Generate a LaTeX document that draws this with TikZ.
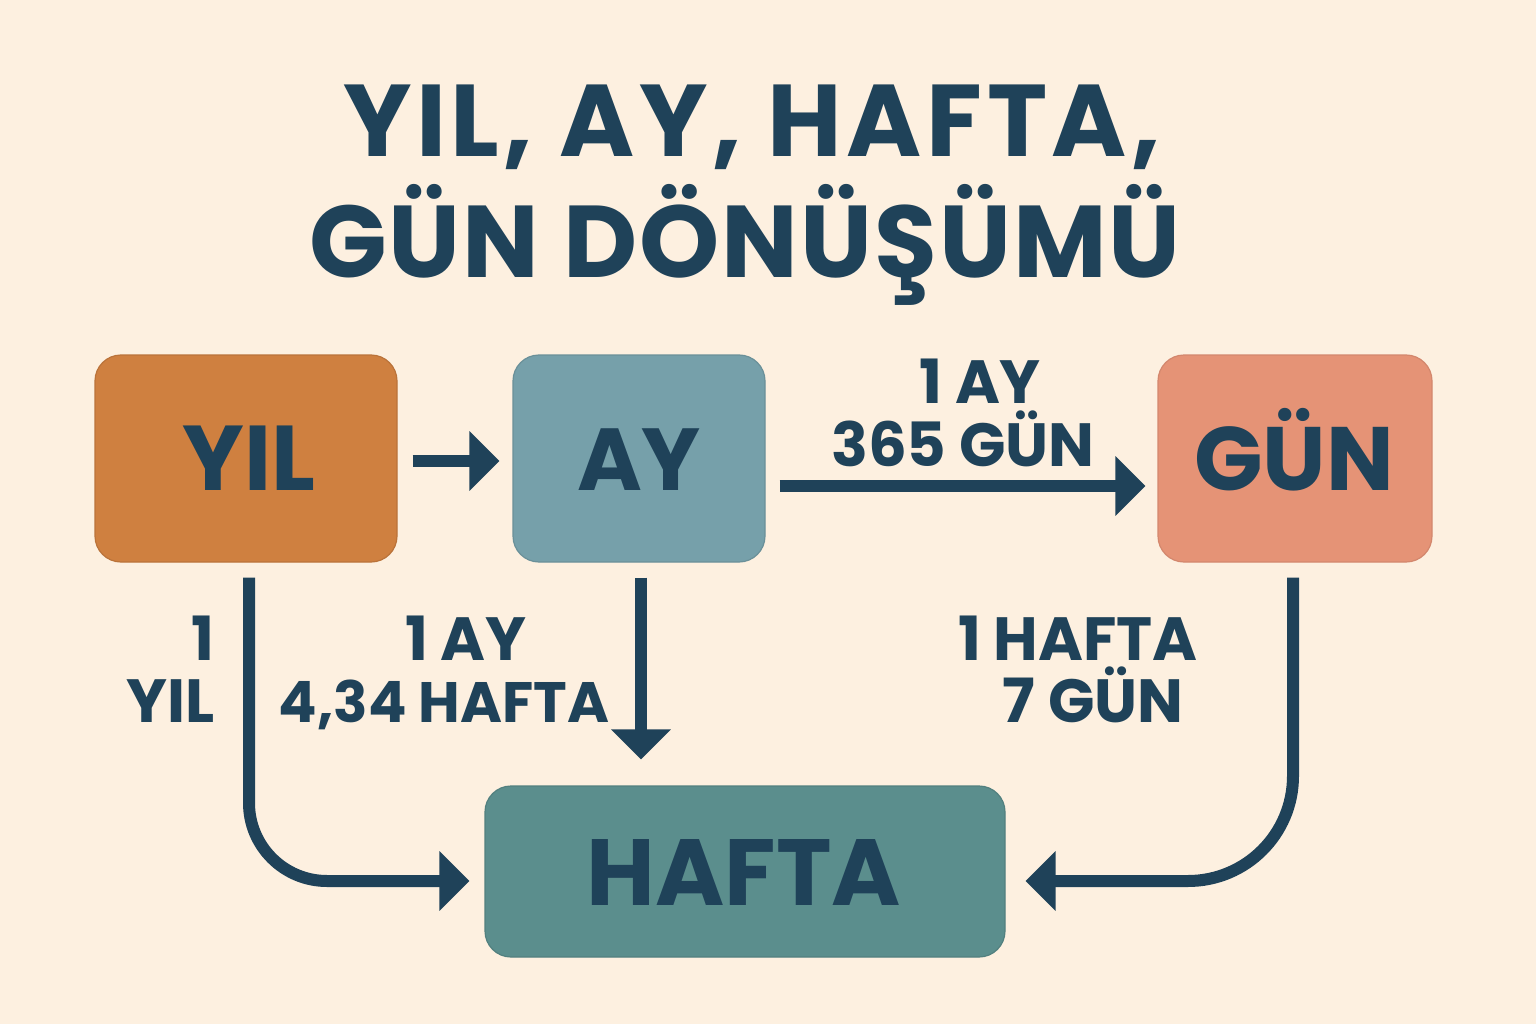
\documentclass[tikz,border=0pt]{standalone}
\usepackage{fontspec}
\setmainfont{Poppins}
\newfontfamily\ttlA{Poppins}[LetterSpace=4.5]
\newfontfamily\ttlB{Poppins}[LetterSpace=2]
\usetikzlibrary{arrows.meta}
\definecolor{bg}{HTML}{FDF0E0}
\definecolor{ink}{HTML}{1F4259}
\definecolor{cyil}{HTML}{CF8040}
\definecolor{cay}{HTML}{76A0AA}
\definecolor{cgun}{HTML}{E59376}
\definecolor{chafta}{HTML}{5B8E8D}
\tikzset{
  box/.style={rounded corners=26pt, inner sep=0pt, line width=1.2pt, text=ink},
  conn/.style={draw=ink, line width=12pt, -{Triangle[length=30pt,width=58pt]}},
  lbl/.style={anchor=base, text=ink, font=\fontsize{61}{61}\selectfont\bfseries, inner sep=0pt},
  blbl/.style={anchor=base, text=ink, font=\fontsize{92}{92}\selectfont\bfseries, inner sep=0pt}
}
\begin{document}
\begin{tikzpicture}[x=1pt,y=-1pt]
\fill[bg] (0,0) rectangle (1536,1024);
\useasboundingbox (0,0) rectangle (1536,1024);
% title
\node[anchor=base, text=ink, inner sep=0pt, font=\ttlA\fontsize{102}{102}\selectfont\bfseries] (t1) at (752,157) {YIL, AY, HAFTA,};
\node[anchor=base, text=ink, inner sep=0pt, font=\ttlB\fontsize{102}{102}\selectfont\bfseries] (t2) at (745,278) {GÜN DÖNÜŞÜMÜ};
% boxes
\node[box, fill=cyil, draw=cyil!90!black, minimum width=302pt, minimum height=207pt] (yil) at (246,458.5) {};
\node[box, fill=cay, draw=cay!90!black, minimum width=252pt, minimum height=207pt] (ay) at (639,458.5) {};
\node[box, fill=cgun, draw=cgun!92!black, minimum width=274pt, minimum height=207pt] (gun) at (1295,458.5) {};
\node[box, fill=chafta, draw=chafta!90!black, minimum width=520pt, minimum height=171pt] (hafta) at (745,871.5) {};
% box labels
\node[blbl] (lyil) at (249,490) {YIL};
\node[blbl, font=\fontsize{88}{88}\selectfont\bfseries] (lay) at (639,490) {AY};
\node[blbl, font=\fontsize{90}{90}\selectfont\bfseries] (lgun) at (1294,490) {GÜN};
\node[blbl, font=\fontsize{94}{94}\selectfont\bfseries] (lhafta) at (744,905) {HAFTA};
% connectors
\draw[conn, shorten <=15pt, shorten >=13pt] ([yshift=-2.5pt]yil.east) -- ([yshift=-2.5pt]ay.west);
\draw[conn, shorten <=14pt, shorten >=12pt] ([yshift=-27.5pt]ay.east) -- ([yshift=-27.5pt]gun.west);
\draw[conn, shorten <=15pt, shorten >=26pt] ([xshift=2pt]ay.south) -- ([xshift=2pt]ay.south |- hafta.north);
\draw[conn, rounded corners=78pt, shorten >=15pt] ([xshift=3pt,yshift=-15pt]yil.south) |- ([yshift=-9.5pt]hafta.west);
\draw[conn, rounded corners=105pt, shorten >=20pt] ([xshift=-2pt,yshift=-15pt]gun.south) |- ([yshift=-9.5pt]hafta.east);
% connector labels
\node[lbl] (a1) at (980,403) {1 AY};
\node[lbl] (a2) at (963,466) {365 GÜN};
\node[lbl, anchor=base east] (b1) at (215,660) {1};
\node[lbl, anchor=base east] (b2) at (215,722) {YIL};
\node[lbl] (c1) at (466,660) {1 AY};
\node[lbl, font=\fontsize{57}{57}\selectfont\bfseries] (c2) at (444,722) {4,34 HAFTA};
\node[lbl] (d1) at (1078,660) {1 HAFTA};
\node[lbl] (d2) at (1093,722) {7 GÜN};
\end{tikzpicture}
\end{document}
